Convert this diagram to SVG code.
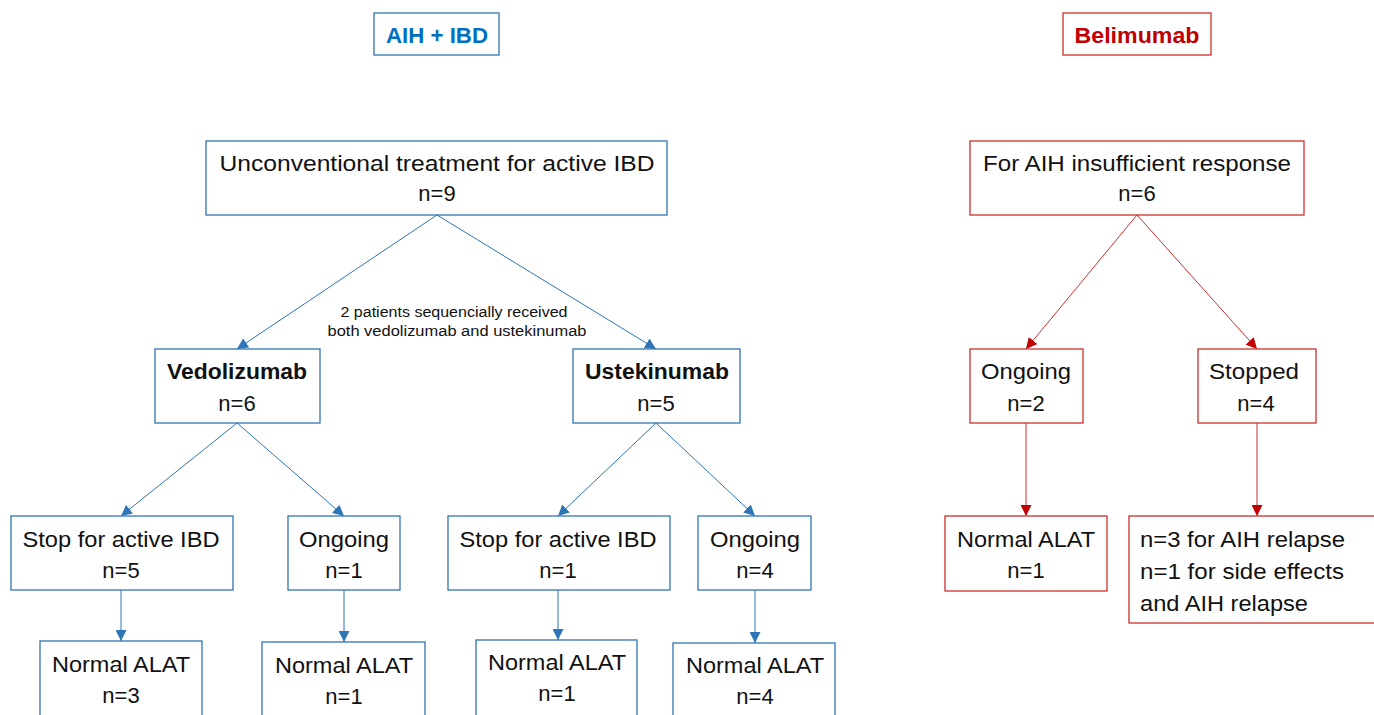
<svg xmlns="http://www.w3.org/2000/svg" width="1374" height="715" viewBox="0 0 1374 715">
<defs>
<style>
.bb{fill:#fff;stroke:#2E75B6;stroke-width:1.3}
.rb{fill:#fff;stroke:#C9302C;stroke-width:1.3}
.t{font-family:"Liberation Sans",Arial,sans-serif;font-size:22px;fill:#111;text-anchor:middle}
.tl{font-family:"Liberation Sans",Arial,sans-serif;font-size:22px;fill:#111}
.b{font-weight:bold}
.s{font-family:"Liberation Sans",Arial,sans-serif;font-size:14px;fill:#111;text-anchor:middle}
.bl{stroke:#2E75B6;stroke-width:1;fill:none}
.rl{stroke:#C9302C;stroke-width:1;fill:none}
</style>
<marker id="ab" viewBox="0 0 10 10" refX="10" refY="5" markerWidth="11" markerHeight="11" markerUnits="userSpaceOnUse" orient="auto"><path d="M0,0 L10,5 L0,10 z" fill="#2E75B6"/></marker>
<marker id="ar" viewBox="0 0 10 10" refX="10" refY="5" markerWidth="11" markerHeight="11" markerUnits="userSpaceOnUse" orient="auto"><path d="M0,0 L10,5 L0,10 z" fill="#C00000"/></marker>
</defs>
<rect width="1374" height="715" fill="#fff"/>

<g id="connectors">
<line class="bl" x1="437" y1="215" x2="237" y2="349" marker-end="url(#ab)"/>
<line class="bl" x1="437" y1="215" x2="656" y2="349" marker-end="url(#ab)"/>
<line class="bl" x1="237" y1="423" x2="121" y2="516" marker-end="url(#ab)"/>
<line class="bl" x1="237" y1="423" x2="344" y2="516" marker-end="url(#ab)"/>
<line class="bl" x1="656" y1="423" x2="558" y2="516" marker-end="url(#ab)"/>
<line class="bl" x1="656" y1="423" x2="755" y2="516" marker-end="url(#ab)"/>
<line class="bl" x1="121" y1="590" x2="121" y2="641" marker-end="url(#ab)"/>
<line class="bl" x1="344" y1="590" x2="344" y2="642" marker-end="url(#ab)"/>
<line class="bl" x1="558" y1="590" x2="558" y2="640" marker-end="url(#ab)"/>
<line class="bl" x1="755" y1="590" x2="755" y2="643" marker-end="url(#ab)"/>
<line class="rl" x1="1137" y1="215" x2="1026" y2="349" marker-end="url(#ar)"/>
<line class="rl" x1="1137" y1="215" x2="1257" y2="349" marker-end="url(#ar)"/>
<line class="rl" x1="1026" y1="423" x2="1026" y2="516" marker-end="url(#ar)"/>
<line class="rl" x1="1257" y1="423" x2="1257" y2="516" marker-end="url(#ar)"/>
</g>

<g id="title-aih">
<rect class="bb" x="374" y="13" width="125" height="42"/>
<text class="t b" x="437" y="43" style="fill:#0070C0" textLength="102" lengthAdjust="spacingAndGlyphs">AIH + IBD</text>
</g>
<g id="title-belimumab">
<rect class="rb" x="1063" y="13" width="148" height="42"/>
<text class="t b" x="1137" y="43" style="fill:#C00000" textLength="125" lengthAdjust="spacingAndGlyphs">Belimumab</text>
</g>

<g id="unconventional">
<rect class="bb" x="206" y="141" width="461" height="74"/>
<text class="t" x="437" y="171" textLength="435" lengthAdjust="spacingAndGlyphs">Unconventional treatment for active IBD</text>
<text class="t" x="437" y="201">n=9</text>
</g>

<g id="annotation">
<text class="s" x="454" y="317" textLength="227" lengthAdjust="spacingAndGlyphs">2 patients sequencially received</text>
<text class="s" x="457" y="336" textLength="259" lengthAdjust="spacingAndGlyphs">both vedolizumab and  ustekinumab</text>
</g>

<g id="vedolizumab">
<rect class="bb" x="155" y="349" width="165" height="74"/>
<text class="t b" x="237" y="379" textLength="140" lengthAdjust="spacingAndGlyphs">Vedolizumab</text>
<text class="t" x="237" y="411">n=6</text>
</g>
<g id="ustekinumab">
<rect class="bb" x="573" y="349" width="167" height="74"/>
<text class="t b" x="657" y="379" textLength="144" lengthAdjust="spacingAndGlyphs">Ustekinumab</text>
<text class="t" x="656" y="411">n=5</text>
</g>

<g id="stop-vedo">
<rect class="bb" x="11" y="516" width="222" height="74"/>
<text class="t" x="121" y="547" textLength="197" lengthAdjust="spacingAndGlyphs">Stop for active IBD</text>
<text class="t" x="121" y="578">n=5</text>
</g>
<g id="ongoing-vedo">
<rect class="bb" x="288" y="516" width="112" height="74"/>
<text class="t" x="344" y="547" textLength="90" lengthAdjust="spacingAndGlyphs">Ongoing</text>
<text class="t" x="344" y="578">n=1</text>
</g>
<g id="stop-uste">
<rect class="bb" x="448" y="516" width="222" height="74"/>
<text class="t" x="558" y="547" textLength="197" lengthAdjust="spacingAndGlyphs">Stop for active IBD</text>
<text class="t" x="558" y="578">n=1</text>
</g>
<g id="ongoing-uste">
<rect class="bb" x="698" y="516" width="113" height="74"/>
<text class="t" x="755" y="547" textLength="90" lengthAdjust="spacingAndGlyphs">Ongoing</text>
<text class="t" x="755" y="578">n=4</text>
</g>

<g id="alat-1">
<rect class="bb" x="40" y="641" width="162" height="80"/>
<text class="t" x="121" y="672" textLength="138" lengthAdjust="spacingAndGlyphs">Normal ALAT</text>
<text class="t" x="121" y="703">n=3</text>
</g>
<g id="alat-2">
<rect class="bb" x="262" y="642" width="163" height="80"/>
<text class="t" x="344" y="673" textLength="138" lengthAdjust="spacingAndGlyphs">Normal ALAT</text>
<text class="t" x="344" y="704">n=1</text>
</g>
<g id="alat-3">
<rect class="bb" x="476" y="640" width="161" height="80"/>
<text class="t" x="557" y="670" textLength="138" lengthAdjust="spacingAndGlyphs">Normal ALAT</text>
<text class="t" x="557" y="701">n=1</text>
</g>
<g id="alat-4">
<rect class="bb" x="673" y="643" width="162" height="80"/>
<text class="t" x="755" y="673" textLength="138" lengthAdjust="spacingAndGlyphs">Normal ALAT</text>
<text class="t" x="755" y="704">n=4</text>
</g>

<g id="aih-insufficient">
<rect class="rb" x="970" y="141" width="334" height="74"/>
<text class="t" x="1137" y="171" textLength="308" lengthAdjust="spacingAndGlyphs">For AIH insufficient response</text>
<text class="t" x="1137" y="201">n=6</text>
</g>
<g id="ongoing-beli">
<rect class="rb" x="970" y="349" width="113" height="74"/>
<text class="t" x="1026" y="379" textLength="90" lengthAdjust="spacingAndGlyphs">Ongoing</text>
<text class="t" x="1026" y="411">n=2</text>
</g>
<g id="stopped-beli">
<rect class="rb" x="1198" y="349" width="118" height="74"/>
<text class="t" x="1254" y="379" textLength="90" lengthAdjust="spacingAndGlyphs">Stopped</text>
<text class="t" x="1256" y="411">n=4</text>
</g>
<g id="alat-beli">
<rect class="rb" x="945" y="516" width="162" height="75"/>
<text class="t" x="1026" y="547" textLength="138" lengthAdjust="spacingAndGlyphs">Normal ALAT</text>
<text class="t" x="1026" y="578">n=1</text>
</g>
<g id="relapse-beli">
<rect class="rb" x="1129" y="516" width="260" height="107"/>
<text class="tl" x="1140" y="547" textLength="205" lengthAdjust="spacingAndGlyphs">n=3 for AIH relapse</text>
<text class="tl" x="1140" y="579" textLength="204" lengthAdjust="spacingAndGlyphs">n=1 for side effects</text>
<text class="tl" x="1140" y="611" textLength="168" lengthAdjust="spacingAndGlyphs">and AIH relapse</text>
</g>
</svg>
